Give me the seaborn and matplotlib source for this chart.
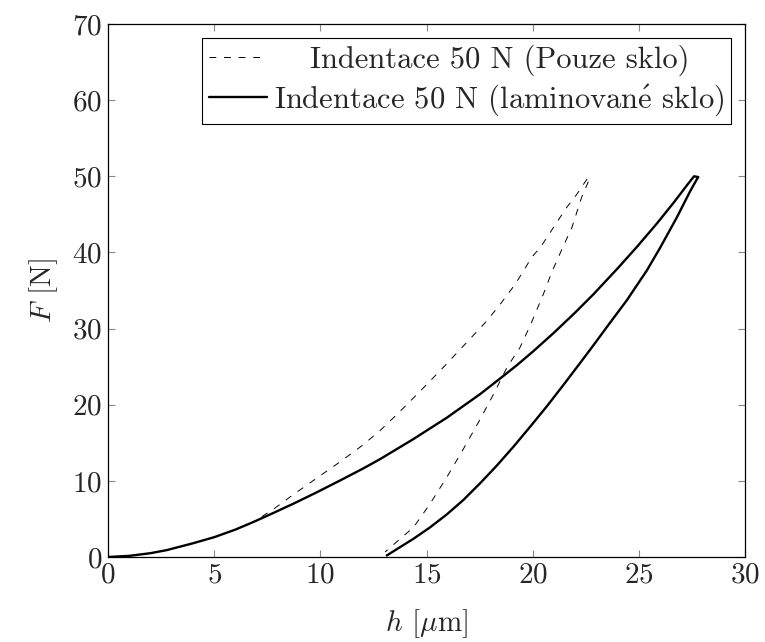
import numpy as np
import pandas as pd
import seaborn as sns
import matplotlib
matplotlib.use("Agg")
import matplotlib.pyplot as plt

# h [um], F [N]
h_sklo = [0, 1, 2, 3, 4, 5, 6, 6.85, 7.8, 8.73, 9.8, 10.93, 12, 12.81, 13.6, 14.39,
          15.2, 15.96, 16.9, 17.84, 18.5, 19.17, 19.64, 19.96, 20.35, 20.82, 21.29,
          21.6, 22.07, 22.6,
          22.7, 22.3, 21.84, 21.52, 21.2, 20.9, 20.5, 19.9, 19.4, 18.79, 18.16, 17.53,
          16.74, 15.96, 15.17, 14.39, 13.6, 13.05]
F_sklo = [0, 0.15, 0.5, 1.05, 1.8, 2.6, 3.6, 4.6, 6.3, 8.2, 10.3, 12.5, 14.7, 16.6,
          18.7, 20.9, 23.2, 25.4, 28.2, 31.0, 33.3, 35.8, 37.9, 39.4, 40.6, 42.6, 44.6,
          45.9, 47.6, 49.8,
          49.8, 47.2, 43.2, 41.3, 39.3, 37.4, 34.5, 30.5, 27.5, 24.9, 21.4, 18.1,
          14.2, 10.5, 7.0, 3.9, 2.0, 0.66]

h_lam = [0, 1, 2, 2.76, 4, 5, 6, 6.85, 7.8, 8.73, 9.8, 10.93, 12, 12.81, 14.39, 15.96,
         17.53, 18.63, 19.26, 20.0, 20.98, 22.0, 22.86, 24.0, 24.9, 25.85, 26.63, 27.26,
         27.6,
         27.8, 27.73, 27.41, 26.79, 26.0, 25.37, 24.43, 23.6, 22.86, 22.24, 21.45, 20.67,
         19.88, 19.1, 18.31, 17.53, 16.74, 15.96, 15.17, 14.39, 13.7, 13.13]
F_lam = [0, 0.15, 0.5, 0.9, 1.8, 2.6, 3.6, 4.6, 5.8, 7.0, 8.45, 10.05, 11.6, 12.85, 15.5,
         18.3, 21.4, 23.8, 25.2, 26.95, 29.4, 32.1, 34.5, 37.9, 40.7, 43.8, 46.5, 48.8,
         50.0,
         49.9, 49.6, 48.0, 44.6, 40.6, 37.6, 33.7, 30.6, 27.8, 25.5, 22.6, 19.8,
         17.1, 14.5, 12.0, 9.7, 7.5, 5.6, 3.9, 2.4, 1.2, 0.2]

labels = ["Indentace 50 N (Pouze sklo)", r"Indentace 50 N (laminovan$\mathrm{\acute{e}}$ sklo)"]
x_ticks = [0, 5, 10, 15, 20, 25, 30]
y_ticks = [0, 10, 20, 30, 40, 50, 60, 70]

sns.set_style("ticks")
plt.rcParams['font.family'] = ['cmr10', 'DejaVu Serif']
plt.rcParams['mathtext.fontset'] = 'cm'
plt.rcParams['axes.formatter.use_mathtext'] = True
plt.rcParams['axes.unicode_minus'] = False

df_sklo = pd.DataFrame({"h": h_sklo, "F": F_sklo})
df_lam = pd.DataFrame({"h": h_lam, "F": F_lam})

fig = plt.figure(figsize=(7.65, 6.42), dpi=100)
ax = fig.add_axes([108 / 765, 1 - 557 / 642, 637 / 765, 533 / 642])

sns.lineplot(data=df_sklo, x="h", y="F", sort=False, estimator=None, ax=ax,
             color="black", linewidth=0.7, label=labels[0])
ax.lines[-1].set_linestyle((0, (7, 8)))
sns.lineplot(data=df_lam, x="h", y="F", sort=False, estimator=None, ax=ax,
             color="black", linewidth=1.7, label=labels[1])

ax.set_xlim(0, 30)
ax.set_ylim(0, 70)
ax.set_xticks(x_ticks)
ax.set_yticks(y_ticks)
ax.tick_params(direction="in", length=5, width=0.8, color="#888888",
               top=True, right=True, labelsize=21, pad=4)
for s in ax.spines.values():
    s.set_visible(True)
    s.set_linewidth(0.9)
    s.set_color("black")

ax.set_xlabel(r"$h$ [$\mu$m]", fontsize=21, labelpad=13)
ax.set_ylabel(r"$F$ [N]", fontsize=21, labelpad=9)

leg = ax.legend(loc="upper right", fontsize=22, frameon=True, fancybox=False,
                edgecolor="black", framealpha=1, handlelength=1.9, handletextpad=0.25,
                borderpad=0.22, labelspacing=0.2, borderaxespad=0.45)
leg.get_frame().set_linewidth(0.8)
for lh in leg.get_lines():
    if lh.get_linewidth() < 1:
        lh.set_linestyle((0, (7, 8)))

# prvni polozku legendy vycentrovat jako v pgfplots
fig.canvas.draw()
r = fig.canvas.get_renderer()
t1, t2 = leg.get_texts()
dw = (t2.get_window_extent(r).width - t1.get_window_extent(r).width) / 2
rows = leg._legend_handle_box.get_children()[0].get_children()
rows[0].sep += dw * 72 / fig.dpi

fig.savefig("out.png", dpi=100)
